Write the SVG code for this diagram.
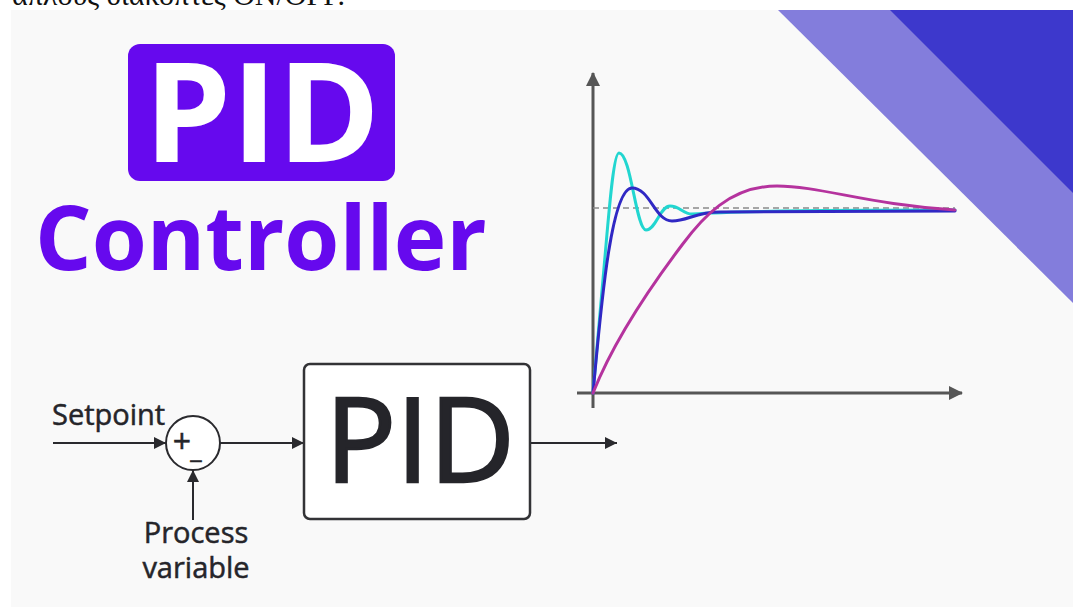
<svg xmlns="http://www.w3.org/2000/svg" width="1073" height="607" viewBox="0 0 1073 607">
<defs>
<style>
.lbl{font-family:"Open Sans","Noto Sans","Liberation Sans",sans-serif;fill:#25252a;stroke:#25252a;stroke-width:0.5}
.wire{stroke:#2a2a2e;stroke-width:2;fill:none}
.axis{stroke:#565656;stroke-width:3;fill:none}
.curve{fill:none;stroke-width:3;stroke-linecap:round;stroke-linejoin:round}
</style>
<marker id="arr" viewBox="0 0 12 12" refX="12" refY="6" markerWidth="12" markerHeight="12" markerUnits="userSpaceOnUse" orient="auto">
<path d="M0,0 L12,6 L0,12 Z" fill="#2a2a2e"/>
</marker>
<marker id="axarr" viewBox="0 0 14 14" refX="13" refY="7" markerWidth="14" markerHeight="14" markerUnits="userSpaceOnUse" orient="auto">
<path d="M0,0 L14,7 L0,14 Z" fill="#565656"/>
</marker>
</defs>
<rect x="0" y="0" width="1073" height="607" fill="#ffffff"/>
<text x="12" y="5" font-family="Liberation Serif, serif" font-size="30" fill="#111">άπλους διακόπτες ON/OFF.</text>
<rect x="11" y="10" width="1062" height="597" fill="#f9f9f9"/>
<polygon points="778,10 1073,10 1073,303" fill="#837ddc"/>
<polygon points="890,10 1073,10 1073,193" fill="#3d38cc"/>

<g id="title">
<rect x="128" y="44" width="267" height="137" rx="12" fill="#6609ee"/>
<text x="262" y="162" text-anchor="middle" font-family="Open Sans, Noto Sans, sans-serif" font-weight="700" font-size="139" fill="#ffffff">PID</text>
<text x="35" y="270" font-family="Open Sans, Noto Sans, sans-serif" font-weight="700" font-size="89" fill="#6609ee">Controller</text>
</g>

<g id="graph">
<line class="axis" x1="593" y1="408" x2="593" y2="73" marker-end="url(#axarr)"/>
<line class="axis" x1="577" y1="393" x2="962" y2="393" marker-end="url(#axarr)"/>
<line x1="593" y1="208" x2="955" y2="208" stroke="#8a8a8a" stroke-width="1.5" stroke-dasharray="6 4"/>
<path class="curve" stroke="#22d6d0" d="M593,393 L606,245 C610,199 614,153 619,153 C631,153 636,230 646,230 C656,230 660,206 670,206 C680,206 683,214 692,214 C720,212 800,210 955,210"/>
<path class="curve" stroke="#3028c4" d="M593,393 C600,320 610,188 632,188 C650,188 655,221 672,221 C688,221 695,212 720,212 L955,211"/>
<path class="curve" stroke="#b5339e" d="M593,393 C612,345 642,298 682,245 C702,218 730,186 777,186 C820,186 870,205 955,210"/>
</g>

<g id="connectors">
<line class="wire" x1="53" y1="443" x2="166" y2="443" marker-end="url(#arr)"/>
<line class="wire" x1="193" y1="520" x2="193" y2="470" marker-end="url(#arr)"/>
<line class="wire" x1="220" y1="443" x2="304" y2="443" marker-end="url(#arr)"/>
<line class="wire" x1="530" y1="443" x2="617" y2="443" marker-end="url(#arr)"/>
</g>

<g id="sum">
<circle cx="193" cy="443" r="27" fill="#ffffff" stroke="#2a2a2e" stroke-width="2"/>
<text class="lbl" x="182" y="453" text-anchor="middle" font-size="32">+</text>
<text class="lbl" x="196" y="458" text-anchor="middle" font-size="26">_</text>
</g>

<g id="pid-block">
<rect x="304" y="364" width="226" height="155" rx="6" fill="#ffffff" stroke="#333336" stroke-width="2.5"/>
<text class="lbl" x="420" y="482" text-anchor="middle" font-size="118" style="stroke-width:2.5">PID</text>
</g>

<g id="setpoint">
<text class="lbl" x="52" y="425" font-size="29">Setpoint</text>
</g>
<g id="process-variable">
<text class="lbl" x="196" y="543" text-anchor="middle" font-size="29">Process</text>
<text class="lbl" x="196" y="578" text-anchor="middle" font-size="29">variable</text>
</g>
</svg>
